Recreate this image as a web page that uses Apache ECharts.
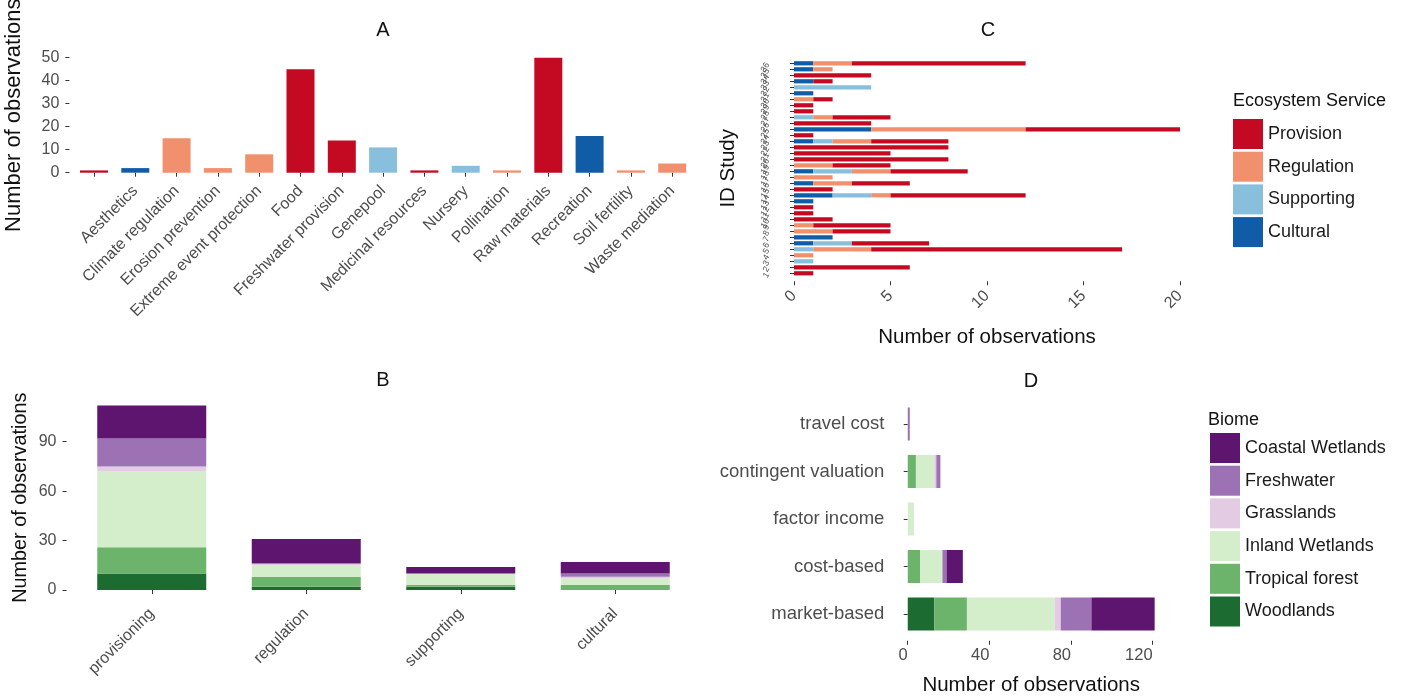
<!DOCTYPE html>
<html><head><meta charset="utf-8">
<script src="https://cdn.jsdelivr.net/npm/echarts@6/dist/echarts.min.js"></script>
<style>html,body{margin:0;padding:0;background:#fff}#c{width:1410px;height:696px}</style>
</head><body><div id="c"></div>
<script>
// ---------- Panel A: observations per service category ----------
const aCategories = ['', 'Aesthetics', 'Climate regulation', 'Erosion prevention', 'Extreme event protection', 'Food', 'Freshwater provision', 'Genepool', 'Medicinal resources', 'Nursery', 'Pollination', 'Raw materials', 'Recreation', 'Soil fertility', 'Waste mediation'];
const aValues = [1, 2, 15, 2, 8, 45, 14, 11, 1, 3, 1, 50, 16, 1, 4];
const aService = ['Provision', 'Cultural', 'Regulation', 'Regulation', 'Regulation', 'Provision', 'Provision', 'Supporting', 'Provision', 'Supporting', 'Regulation', 'Provision', 'Cultural', 'Regulation', 'Regulation'];
const aTicks = [0, 10, 20, 30, 40, 50];

// ---------- Panel B: service type x biome ----------
const bCategories = ['provisioning', 'regulation', 'supporting', 'cultural'];
const bWoodlands   = [10, 2, 2, 0];
const bTropical    = [16, 6, 1, 3];
const bInland      = [46, 7, 7, 4];
const bGrasslands  = [3, 1, 0, 1];
const bFreshwater  = [17, 0, 0, 2];
const bCoastal     = [20, 15, 4, 7];
const bTicks = [0, 30, 60, 90];

// ---------- Panel C: study x service ----------
const cStudies = ['1','2','3','4','5','6','7','8','9','10','11','12','13','14','15','16','17','18','19','20','21','22','23','24','25','26','27','28','29','30','31','32','33','34','35','36'];
const cCultural   = [0,0,0,0,0,1,2,0,0,0,0,0,1,2,0,1,0,1,0,0,0,0,1,0,4,0,0,0,0,0,1,0,1,0,1,1];
const cSupporting = [0,0,1,0,1,2,0,0,0,0,0,0,0,2,0,0,0,2,0,0,0,0,1,0,0,0,1,0,0,0,0,4,0,0,0,0];
const cRegulation = [0,0,0,1,3,0,0,2,1,0,0,0,0,1,0,2,2,2,2,0,0,0,2,0,8,0,1,0,0,1,0,0,0,0,1,2];
const cProvision  = [1,6,0,0,13,4,0,3,4,2,1,1,0,7,2,3,0,4,3,8,5,8,4,1,8,4,3,1,1,1,0,0,1,4,0,9];
const cTicks = [0, 5, 10, 15, 20];

// ---------- Panel D: valuation method x biome ----------
const dCategories = ['market-based', 'cost-based', 'factor income', 'contingent valuation', 'travel cost'];
const dWoodlands  = [13, 0, 0, 0, 0];
const dTropical   = [16, 6, 0, 4, 0];
const dInland     = [43, 11, 3, 9, 0];
const dGrasslands = [3, 0, 0, 1, 0];
const dFreshwater = [15, 2, 0, 2, 1];
const dCoastal    = [31, 8, 0, 0, 0];
const dTicks = [0, 40, 80, 120];

const serviceNames = ['Provision', 'Regulation', 'Supporting', 'Cultural'];
const biomeNames = ['Coastal Wetlands', 'Freshwater', 'Grasslands', 'Inland Wetlands', 'Tropical forest', 'Woodlands'];

// ---------- styles ----------
const serviceColor = {Provision: '#c40a22', Regulation: '#f0906c', Supporting: '#88bfdd', Cultural: '#105ca6'};
const biomeColor = {'Coastal Wetlands': '#5e1570', 'Freshwater': '#9c72b5', 'Grasslands': '#e3cbe4', 'Inland Wetlands': '#d4edca', 'Tropical forest': '#6cb36b', 'Woodlands': '#1c6b31'};
const FONT = "'Liberation Sans', Arial, sans-serif";
const TICKC = '#333333', LABC = '#4d4d4d', NAMEC = '#111111';

function tick(custom) {
  const t = {show: true, length: 4, lineStyle: {color: TICKC, width: 1}};
  if (custom) t.customValues = custom; else t.alignWithLabel = true;
  return t;
}
const noLine = {show: false};
const noSplit = {show: false};

const chart = echarts.init(document.getElementById('c'), null, {renderer: 'canvas'});

const grids = [
  {left: 73.35, top: 51.95, width: 619.5, height: 126.5},   // A
  {left: 74.5, top: 396.2, width: 618, height: 203},         // B
  {left: 774.7, top: 60.3, width: 424.6, height: 216},       // C
  {left: 895.4, top: 400.25, width: 271.6, height: 237.5}    // D
].map(g => Object.assign(g, {outerBoundsMode: 'none', containLabel: false}));

const xAxes = [
  {gridIndex: 0, type: 'category', data: aCategories, axisLine: noLine, axisTick: tick(),
   axisLabel: {interval: 0, rotate: 45, fontSize: 16, color: LABC, margin: 10, fontFamily: FONT}},
  {gridIndex: 1, type: 'category', data: bCategories, axisLine: noLine, axisTick: tick(),
   axisLabel: {interval: 0, rotate: 45, fontSize: 16, color: LABC, margin: 12, fontFamily: FONT}},
  {gridIndex: 2, type: 'value', min: -1, max: 21, offset: 5, axisLine: noLine, splitLine: noSplit, axisTick: tick(cTicks),
   axisLabel: {customValues: cTicks, rotate: 45, fontSize: 16, color: LABC, margin: 12, fontFamily: FONT},
   name: 'Number of observations', nameLocation: 'middle', nameGap: 46,
   nameTextStyle: {fontSize: 20.5, color: NAMEC, fontFamily: FONT}},
  {gridIndex: 3, type: 'value', min: -6.05, max: 127.05, offset: 3, axisLine: noLine, splitLine: noSplit, axisTick: tick(dTicks),
   axisLabel: {customValues: dTicks, align: 'right', fontSize: 16.5, color: LABC, margin: 6, fontFamily: FONT},
   name: 'Number of observations', nameLocation: 'middle', nameGap: 34,
   nameTextStyle: {fontSize: 20.5, color: NAMEC, fontFamily: FONT}}
];

const yAxes = [
  {gridIndex: 0, type: 'value', min: -2.5, max: 52.5, offset: 4, axisLine: noLine, splitLine: noSplit, axisTick: tick(aTicks),
   axisLabel: {customValues: aTicks, fontSize: 16, color: LABC, margin: 10, fontFamily: FONT},
   name: 'Number of observations', nameLocation: 'middle', nameGap: 44,
   nameTextStyle: {fontSize: 22, color: NAMEC, fontFamily: FONT}},
  {gridIndex: 1, type: 'value', min: -5.6, max: 117.6, offset: 8, axisLine: noLine, splitLine: noSplit, axisTick: tick(bTicks),
   axisLabel: {customValues: bTicks, fontSize: 16, color: LABC, margin: 10, fontFamily: FONT},
   name: 'Number of observations', nameLocation: 'middle', nameGap: 36,
   nameTextStyle: {fontSize: 19.8, color: NAMEC, fontFamily: FONT}},
  {gridIndex: 2, type: 'category', data: cStudies, axisLine: noLine, axisTick: tick(),
   axisLabel: {interval: 0, rotate: 60, fontSize: 8.5, color: LABC, margin: 7, fontFamily: FONT},
   name: 'ID Study', nameLocation: 'middle', nameGap: 36,
   nameTextStyle: {fontSize: 20.5, color: NAMEC, fontFamily: FONT}},
  {gridIndex: 3, type: 'category', data: dCategories, axisLine: noLine, axisTick: tick(),
   axisLabel: {interval: 0, fontSize: 18.5, color: LABC, margin: 11, fontFamily: FONT}}
];

const series = [];
// A
series.push({
  name: 'A', type: 'bar', xAxisIndex: 0, yAxisIndex: 0, barWidth: 28,
  data: aValues.map((v, i) => ({value: v, itemStyle: {color: serviceColor[aService[i]]}}))
});
// B
const bData = {'Woodlands': bWoodlands, 'Tropical forest': bTropical, 'Inland Wetlands': bInland, 'Grasslands': bGrasslands, 'Freshwater': bFreshwater, 'Coastal Wetlands': bCoastal};
const dData = {'Woodlands': dWoodlands, 'Tropical forest': dTropical, 'Inland Wetlands': dInland, 'Grasslands': dGrasslands, 'Freshwater': dFreshwater, 'Coastal Wetlands': dCoastal};
const stackOrder = ['Woodlands', 'Tropical forest', 'Inland Wetlands', 'Grasslands', 'Freshwater', 'Coastal Wetlands'];
stackOrder.forEach(n => series.push({name: n, type: 'bar', stack: 'b', xAxisIndex: 1, yAxisIndex: 1, barWidth: 109,
  itemStyle: {color: biomeColor[n]}, data: bData[n]}));
// C
const cData = {Cultural: cCultural, Supporting: cSupporting, Regulation: cRegulation, Provision: cProvision};
['Cultural', 'Supporting', 'Regulation', 'Provision'].forEach(n => series.push({name: n, type: 'bar', stack: 'c',
  xAxisIndex: 2, yAxisIndex: 2, barWidth: 4.2, itemStyle: {color: serviceColor[n]}, data: cData[n]}));
// D
stackOrder.forEach(n => series.push({name: n, type: 'bar', stack: 'd', xAxisIndex: 3, yAxisIndex: 3, barWidth: 33,
  itemStyle: {color: biomeColor[n]}, data: dData[n]}));

function ttl(text, left, top, size, align) {
  return {text, left, top, padding: 0, textAlign: align || 'left',
    textStyle: {fontSize: size, fontWeight: 'normal', color: NAMEC, fontFamily: FONT}};
}

const legendBase = {orient: 'vertical', itemWidth: 30, itemHeight: 30, itemGap: 2.7, icon: 'rect', padding: 0,
  selectedMode: false, textStyle: {fontSize: 18, color: '#1a1a1a', fontFamily: FONT}, itemStyle: {borderWidth: 0}};

chart.setOption({
  animation: false,
  backgroundColor: '#ffffff',
  textStyle: {fontFamily: FONT},
  title: [
    ttl('A', 383, 20, 20, 'center'),
    ttl('B', 383, 370, 20, 'center'),
    ttl('C', 988, 20, 20, 'center'),
    ttl('D', 1031, 371, 20, 'center'),
    ttl('Ecosystem Service', 1233, 92, 18),
    ttl('Biome', 1208, 411, 18)
  ],
  legend: [
    Object.assign({}, legendBase, {data: serviceNames, left: 1233, top: 119}),
    Object.assign({}, legendBase, {data: biomeNames, left: 1210, top: 433})
  ],
  grid: grids,
  xAxis: xAxes,
  yAxis: yAxes,
  series: series
});
</script></body></html>
